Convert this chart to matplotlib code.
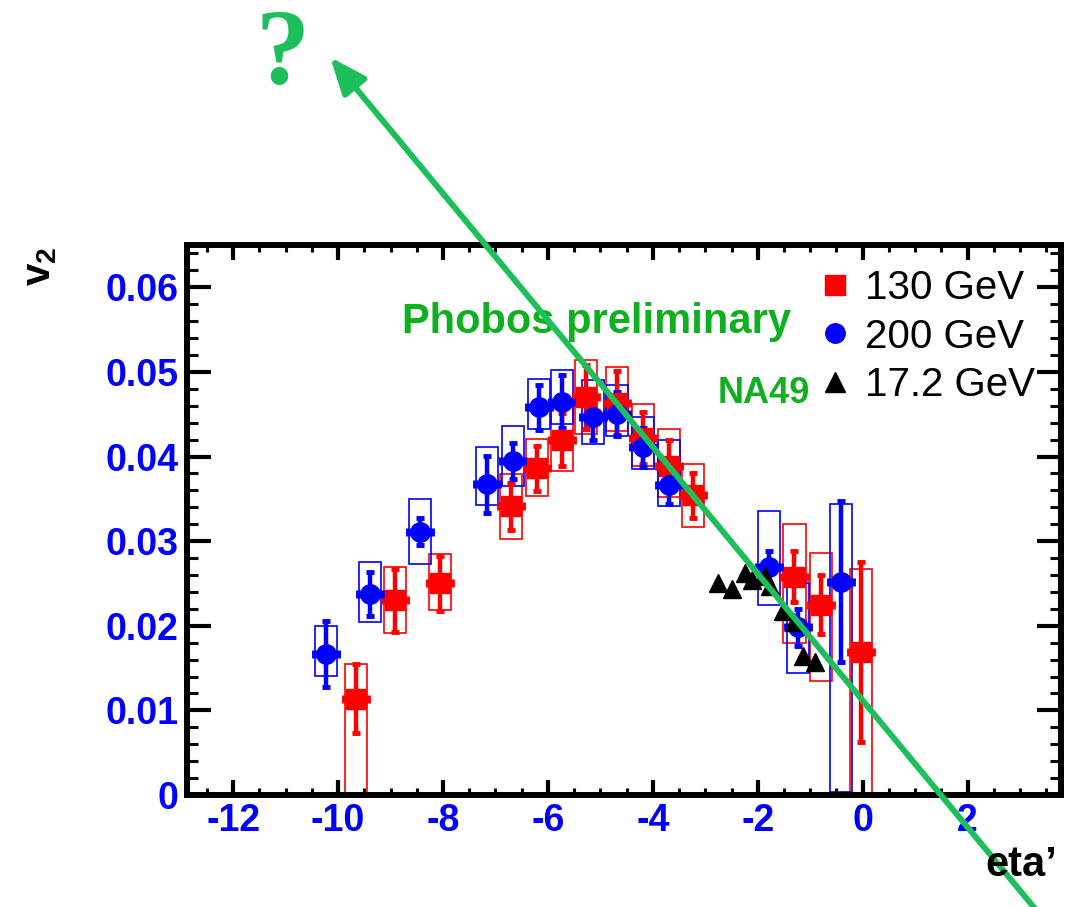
import matplotlib
matplotlib.use('Agg')
import matplotlib.pyplot as plt
from matplotlib.patches import Rectangle, FancyArrowPatch
from matplotlib.lines import Line2D
from matplotlib.ticker import MultipleLocator, FuncFormatter

plt.rcParams['font.family'] = ['Liberation Sans', 'DejaVu Sans']
plt.rcParams['axes.unicode_minus'] = False
plt.rcParams['mathtext.fontset'] = 'custom'
plt.rcParams['mathtext.rm'] = 'Liberation Sans'
plt.rcParams['mathtext.bf'] = 'Liberation Sans:bold'

# PHOBOS Au+Au 130 GeV
eta_130 = [-9.66, -8.91, -8.06, -6.70, -6.21, -5.73, -5.28, -4.69, -4.19, -3.70, -3.24, -1.30, -0.80, -0.04]
v2_130 = [0.0114, 0.0230, 0.0250, 0.0341, 0.0386, 0.0420, 0.0470, 0.0463, 0.0422, 0.0389, 0.0354, 0.0258, 0.0225, 0.0169]
stat_130 = [0.0041, 0.0037, 0.0032, 0.0028, 0.0027, 0.0031, 0.0038, 0.0038, 0.0031, 0.0030, 0.0027, 0.0030, 0.0035, 0.0106]
sys_lo_130 = [-0.005, 0.0191, 0.0219, 0.0303, 0.0353, 0.0383, 0.0427, 0.0430, 0.0389, 0.0352, 0.0317, 0.0180, 0.0135, -0.005]
sys_hi_130 = [0.0155, 0.0269, 0.0285, 0.0379, 0.0421, 0.0459, 0.0514, 0.0506, 0.0462, 0.0432, 0.0391, 0.0320, 0.0286, 0.0267]

# PHOBOS Au+Au 200 GeV
eta_200 = [-10.23, -9.39, -8.44, -7.16, -6.67, -6.17, -5.73, -5.14, -4.69, -4.19, -3.70, -1.79, -1.24, -0.42]
v2_200 = [0.0167, 0.0237, 0.0311, 0.0367, 0.0395, 0.0458, 0.0465, 0.0447, 0.0450, 0.0411, 0.0366, 0.0269, 0.0198, 0.0252]
stat_200 = [0.0039, 0.0026, 0.0016, 0.0034, 0.0021, 0.0027, 0.0031, 0.0027, 0.0026, 0.0023, 0.0022, 0.0019, 0.0022, 0.0095]
sys_lo_200 = [0.0141, 0.0204, 0.0273, 0.0343, 0.0365, 0.0433, 0.0438, 0.0415, 0.0424, 0.0385, 0.0342, 0.0224, 0.0144, 0.0003]
sys_hi_200 = [0.0200, 0.0275, 0.0350, 0.0411, 0.0436, 0.0492, 0.0502, 0.0490, 0.0484, 0.0447, 0.0420, 0.0336, 0.0250, 0.0344]

# NA49 Pb+Pb 17.2 GeV
eta_na49 = [-2.76, -2.50, -2.25, -2.11, -1.87, -1.77, -1.52, -1.30, -1.14, -0.90]
v2_na49 = [0.0251, 0.0243, 0.0262, 0.0254, 0.0259, 0.0247, 0.0218, 0.0204, 0.0164, 0.0157]

legend_labels = ['130 GeV', '200 GeV', '17.2 GeV']

RED = '#ff0000'
BLUE = '#0000ff'
GREEN_TXT = '#0fb020'
GREEN_ARR = '#1dbf5b'
BOX_HW = 0.21
X_ERR = 0.23

fig = plt.figure(figsize=(10.70, 9.07), dpi=100)
ax = fig.add_axes([187 / 1070, 112 / 907, 874 / 1070, 550 / 907])


def draw_set(eta, v2, stat, lo, hi, color, marker):
    for x, a, b in zip(eta, lo, hi):
        ax.add_patch(Rectangle((x - BOX_HW, a), 2 * BOX_HW, b - a, fill=False,
                               edgecolor=color, linewidth=1.2, zorder=2))
    ax.errorbar(eta, v2, yerr=stat, xerr=X_ERR, fmt=marker, color=color,
                markersize=14, elinewidth=3.2, capsize=2.6, capthick=3.5, zorder=3)


draw_set(eta_130, v2_130, stat_130, sys_lo_130, sys_hi_130, RED, 's')
draw_set(eta_200, v2_200, stat_200, sys_lo_200, sys_hi_200, BLUE, 'o')
ax.plot(eta_na49, v2_na49, '^', color='black', markersize=13, linestyle='none', zorder=4)

ax.set_xlim(-12.88, 3.78)
ax.set_ylim(0, 0.065)
ax.xaxis.set_major_locator(MultipleLocator(2))
ax.xaxis.set_minor_locator(MultipleLocator(0.5))
ax.yaxis.set_major_locator(MultipleLocator(0.01))
ax.yaxis.set_minor_locator(MultipleLocator(0.002))
ax.yaxis.set_major_formatter(FuncFormatter(lambda v, p: '0' if abs(v) < 1e-9 else '%.2f' % v))
ax.xaxis.set_major_formatter(FuncFormatter(lambda v, p: '%d' % round(v)))

for s in ax.spines.values():
    s.set_linewidth(4.3)
ax.tick_params(axis='both', which='both', direction='in', top=True, right=True,
               labelcolor=BLUE, labelsize=27)
ax.tick_params(axis='x', which='major', length=11, width=3, pad=6)
ax.tick_params(axis='x', which='minor', length=5, width=2.2)
ax.tick_params(axis='y', which='major', length=17, width=3, pad=6)
ax.tick_params(axis='y', which='minor', length=8, width=2.2)
for lab in ax.get_xticklabels() + ax.get_yticklabels():
    lab.set_fontweight('bold')

fig.text(40 / 1070, 1 - 266 / 907, r'$\mathbf{v}_\mathbf{2}$', rotation=90,
         fontsize=29, ha='center', va='center', color='black')
fig.text(1057 / 1070, 1 - 876 / 907, 'eta\u2019', fontsize=30, fontweight='bold',
         ha='right', va='baseline', color='black')

ax.text(-5.07, 0.0546, 'Phobos preliminary', color=GREEN_TXT, fontsize=30,
        fontweight='bold', ha='center', va='baseline')
ax.text(-1.89, 0.0463, 'NA49', color=GREEN_TXT, fontsize=26,
        fontweight='bold', ha='center', va='baseline')

handles = [Line2D([], [], marker='s', color=RED, linestyle='none', markersize=14),
           Line2D([], [], marker='o', color=BLUE, linestyle='none', markersize=14),
           Line2D([], [], marker='^', color='black', linestyle='none', markersize=14)]
ax.legend(handles, legend_labels, loc='upper left', bbox_to_anchor=(0.723, 0.957),
          frameon=False, fontsize=29, handlelength=0.8, handletextpad=0.35,
          labelspacing=0.27, borderpad=0, borderaxespad=0)

# trend arrow pointing off the acceptance
arrow = FancyArrowPatch((3.28, -0.0134), (-10.15, 0.0872), transform=ax.transData,
                        arrowstyle='-|>,head_length=22,head_width=9', mutation_scale=1,
                        color=GREEN_ARR, linewidth=4.3, shrinkA=0, shrinkB=0,
                        clip_on=False, zorder=6)
ax.add_artist(arrow)
fig.text(283 / 1070, 1 - 83 / 907, '?', family=['Liberation Serif', 'DejaVu Serif'],
         fontweight='bold', fontsize=78, color=GREEN_ARR, ha='center', va='baseline')

fig.savefig('out.png', dpi=100)
